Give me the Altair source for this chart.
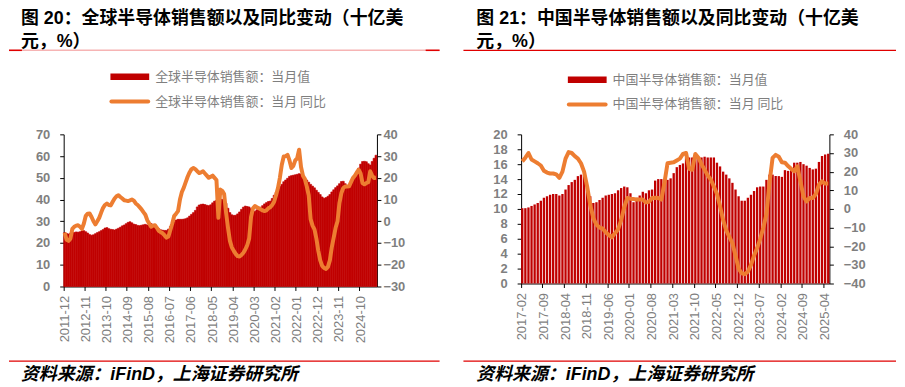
import altair as alt
import pandas as pd

# ---------------- Figure 20: global semiconductor sales ----------------
g_sales_2011 = [24.8]
g_sales_2012 = [24.4, 24.2, 24.5, 24.7, 24.9, 25.1, 25.0, 25.2, 25.6, 25.7, 25.2, 24.6]
g_sales_2013 = [23.9, 23.6, 23.8, 24.3, 24.8, 25.2, 25.7, 26.2, 26.9, 27.1, 26.6, 26.3]
g_sales_2014 = [26.2, 26.0, 26.4, 26.8, 27.3, 27.9, 28.3, 28.9, 29.5, 29.8, 29.3, 28.7]
g_sales_2015 = [28.5, 28.1, 28.0, 28.2, 28.4, 28.6, 28.3, 28.7, 29.0, 28.5, 27.8, 27.3]
g_sales_2016 = [26.6, 26.1, 25.9, 25.8, 25.8, 26.4, 27.6, 28.8, 29.8, 30.6, 30.9, 30.9]
g_sales_2017 = [30.9, 31.0, 31.2, 31.6, 32.4, 33.2, 34.0, 35.0, 36.6, 37.5, 37.8, 37.9]
g_sales_2018 = [37.7, 37.4, 37.2, 37.6, 38.5, 39.3, 39.6, 40.0, 40.2, 40.1, 39.4, 38.3]
g_sales_2019 = [36.0, 34.0, 33.0, 32.7, 32.8, 33.4, 34.3, 35.5, 36.5, 37.0, 36.8, 36.6]
g_sales_2020 = [35.8, 34.9, 34.6, 35.3, 36.0, 36.5, 37.2, 38.0, 38.6, 39.1, 39.3, 40.5]
g_sales_2021 = [42.0, 43.3, 44.5, 46.0, 47.0, 48.2, 49.0, 49.8, 50.7, 51.0, 51.2, 51.4]
g_sales_2022 = [51.6, 51.9, 51.8, 51.0, 50.0, 49.0, 48.0, 47.0, 46.2, 45.4, 44.3, 43.3]
g_sales_2023 = [42.3, 41.2, 40.6, 40.9, 41.5, 42.3, 43.5, 44.5, 45.5, 46.3, 47.3, 48.3]
g_sales_2024 = [48.4, 47.3, 46.2, 46.5, 47.8, 49.1, 50.8, 52.3, 54.5, 56.3, 57.5, 57.6]
g_sales_2025 = [57.4, 56.5, 55.9, 57.5, 59.0, 60.4]

g_yoy_2011 = [-5.3]
g_yoy_2012 = [-8.5, -9.0, -8.0, -3.5, -2.5, -2.0, -1.8, -2.5, -3.5, -1.0, 2.5, 3.5]
g_yoy_2013 = [3.6, 2.0, 0.0, -1.4, 0.0, 1.6, 4.0, 6.2, 7.5, 8.2, 7.5, 7.3]
g_yoy_2014 = [9.0, 10.5, 11.5, 12.0, 11.2, 10.5, 9.7, 9.5, 9.3, 9.6, 10.0, 9.5]
g_yoy_2015 = [8.2, 7.5, 6.5, 5.5, 4.2, 3.0, 0.5, -1.0, -2.5, -2.0, -1.8, -3.0]
g_yoy_2016 = [-4.4, -5.0, -5.5, -6.5, -7.5, -7.0, -4.0, -1.0, 2.4, 3.5, 4.7, 10.0]
g_yoy_2017 = [13.5, 15.5, 18.0, 20.5, 22.5, 24.0, 24.5, 24.0, 23.0, 22.2, 22.5, 23.0]
g_yoy_2018 = [22.0, 21.0, 20.0, 20.5, 21.0, 20.0, 19.0, 1.6, 14.6, 14.0, 12.5, 4.0]
g_yoy_2019 = [-3.0, -9.0, -12.0, -13.6, -15.0, -16.0, -16.2, -15.5, -14.5, -13.0, -11.0, -8.0]
g_yoy_2020 = [2.0, 6.0, 7.0, 6.5, 6.0, 5.5, 5.0, 4.7, 5.0, 6.0, 6.5, 7.5]
g_yoy_2021 = [9.0, 12.0, 15.3, 20.0, 26.0, 29.8, 30.0, 30.6, 28.0, 24.5, 25.5, 28.0]
g_yoy_2022 = [29.0, 32.9, 25.0, 21.0, 19.5, 16.0, 12.0, 1.0, -2.0, -3.7, -8.0, -13.6]
g_yoy_2023 = [-18.0, -20.5, -21.5, -21.9, -21.0, -18.0, -12.0, -7.5, -3.0, 0.0, 8.5, 13.0]
g_yoy_2024 = [15.3, 16.0, 16.0, 16.1, 18.0, 19.9, 21.0, 22.5, 23.7, 22.0, 17.6, 17.0]
g_yoy_2025 = [17.6, 18.0, 23.0, 21.0, 19.9, 20.0]

g_ticks = ["2011-12", "2012-11", "2013-10", "2014-09", "2015-08", "2016-07", "2017-06",
           "2018-05", "2019-04", "2020-03", "2021-02", "2022-01", "2022-12", "2023-11", "2024-10"]

# ---------------- Figure 21: China semiconductor sales ----------------
c_sales_2017 = [10.1, 10.1, 10.2, 10.4, 10.6, 10.8, 11.1, 11.5, 11.7, 11.9, 12.0]
c_sales_2018 = [12.0, 11.8, 12.0, 12.6, 13.2, 13.6, 13.9, 14.4, 14.6, 14.5, 12.6, 11.7]
c_sales_2019 = [10.8, 10.9, 11.2, 11.5, 11.8, 11.9, 12.0, 12.1, 12.5, 12.8, 13.0, 12.9]
c_sales_2020 = [12.1, 10.9, 11.5, 11.8, 12.3, 12.1, 12.5, 12.6, 13.8, 14.0, 14.0, 13.6]
c_sales_2021 = [13.9, 14.1, 14.8, 15.6, 15.9, 16.1, 16.9, 16.9, 16.9, 17.1, 16.9, 16.9]
c_sales_2022 = [17.0, 16.9, 16.9, 16.9, 16.2, 15.7, 15.0, 14.6, 14.1, 13.5, 12.6, 11.7]
c_sales_2023 = [11.1, 11.1, 11.5, 11.9, 12.4, 12.9, 13.0, 13.0, 13.9, 14.6, 14.6, 14.4]
c_sales_2024 = [14.4, 14.3, 15.2, 15.1, 15.3, 16.2, 16.2, 16.3, 16.0, 15.8, 15.5, 15.3]
c_sales_2025 = [15.4, 16.3, 17.1, 17.3, 17.4]

c_yoy_2017 = [25.5, 27.5, 30.0, 26.5, 25.5, 24.5, 23.3, 20.5, 19.5, 19.0, 19.0]
c_yoy_2018 = [18.5, 16.7, 20.0, 27.0, 30.5, 30.0, 28.3, 27.0, 24.5, 20.0, 12.0, 2.0]
c_yoy_2019 = [-4.9, -8.5, -10.0, -10.5, -12.5, -14.0, -15.2, -13.0, -11.0, -6.0, 1.0, 5.9]
c_yoy_2020 = [5.5, 5.3, 5.0, 5.0, 5.0, 3.5, 3.8, 5.9, 6.0, 5.9, 5.0, 14.0]
c_yoy_2021 = [24.5, 24.8, 25.0, 26.0, 27.0, 29.5, 30.0, 21.5, 21.0, 29.5, 27.5, 24.0]
c_yoy_2022 = [21.0, 18.0, 15.8, 12.0, 8.0, 1.4, -6.0, -11.5, -15.0, -18.4, -25.0, -32.0]
c_yoy_2023 = [-34.5, -35.0, -33.7, -30.0, -25.0, -21.0, -16.0, -10.0, -3.0, 14.0, 27.4, 29.0]
c_yoy_2024 = [28.0, 25.0, 24.8, 23.0, 21.5, 20.2, 22.9, 14.8, 6.7, 4.0, 5.9, 5.9]
c_yoy_2025 = [8.0, 13.0, 14.8, 13.6, 13.6]

c_ticks = ["2017-02", "2017-09", "2018-04", "2018-11", "2019-06", "2020-01", "2020-08",
           "2021-03", "2021-10", "2022-05", "2022-12", "2023-07", "2024-02", "2024-09", "2025-04"]

# ---------------- Texts ----------------
g_title = ["图 20：全球半导体销售额以及同比变动（十亿美", "元，%）"]
c_title = ["图 21：中国半导体销售额以及同比变动（十亿美", "元，%）"]
g_leg = ["全球半导体销售额：当月值", "全球半导体销售额：当月 同比"]
c_leg = ["中国半导体销售额：当月值", "中国半导体销售额：当月 同比"]
source = "资料来源：iFinD，上海证券研究所"

BAR = "#C00000"
LINE = "#ED7D31"
GREY = "#7f7f7f"
CJK = "Noto Sans CJK SC"
LAT = "Liberation Sans"


def cat(*parts):
    out = []
    for p in parts:
        out += p
    return out


g_sales = cat(g_sales_2011, g_sales_2012, g_sales_2013, g_sales_2014, g_sales_2015, g_sales_2016,
              g_sales_2017, g_sales_2018, g_sales_2019, g_sales_2020, g_sales_2021, g_sales_2022,
              g_sales_2023, g_sales_2024, g_sales_2025)
g_yoy = cat(g_yoy_2011, g_yoy_2012, g_yoy_2013, g_yoy_2014, g_yoy_2015, g_yoy_2016,
            g_yoy_2017, g_yoy_2018, g_yoy_2019, g_yoy_2020, g_yoy_2021, g_yoy_2022,
            g_yoy_2023, g_yoy_2024, g_yoy_2025)
c_sales = cat(c_sales_2017, c_sales_2018, c_sales_2019, c_sales_2020, c_sales_2021,
              c_sales_2022, c_sales_2023, c_sales_2024, c_sales_2025)
c_yoy = cat(c_yoy_2017, c_yoy_2018, c_yoy_2019, c_yoy_2020, c_yoy_2021,
            c_yoy_2022, c_yoy_2023, c_yoy_2024, c_yoy_2025)

g_months = [d.strftime("%Y-%m") for d in pd.date_range("2011-12-01", periods=len(g_sales), freq="MS")]
c_months = [d.strftime("%Y-%m") for d in pd.date_range("2017-02-01", periods=len(c_sales), freq="MS")]

df_g = pd.DataFrame({"month": g_months, "sales": g_sales, "yoy": g_yoy})
df_c = pd.DataFrame({"month": c_months, "sales": c_sales, "yoy": c_yoy})
one = pd.DataFrame({"k": [0]})


def txt(t, x, y, size, color="black", weight="normal", style="normal", font=CJK,
        baseline="middle"):
    kw = dict(text=t, fontSize=size, color=color, fontWeight=weight, fontStyle=style,
              font=font, align="left", baseline=baseline)
    return alt.Chart(one).mark_text(**kw).encode(x=alt.value(x), y=alt.value(y))


def rule(x1, x2, y, color, width, cap="butt"):
    return alt.Chart(one).mark_rule(color=color, strokeWidth=width, strokeCap=cap).encode(
        x=alt.value(x1), x2=alt.value(x2), y=alt.value(y))


def panel(df, ticks, width, height, pad_inner, ldom, lstep, rdom, rstep, r_label_pad,
          title, leg, title_x, src_x, rule_x1, rule_x2, leg_dy, top_rule_layers):
    x = alt.X("month:O", sort=None,
              scale=alt.Scale(paddingInner=pad_inner, paddingOuter=0),
              axis=alt.Axis(values=ticks, labelAngle=-90, title=None, bandPosition=0,
                            labelFontSize=13, labelColor=GREY, labelFont=LAT,
                            labelPadding=5, tickSize=4, labelOverlap=False))
    bar_kw = dict(color=BAR)
    if pad_inner == 0:
        bar_kw.update(stroke=BAR, strokeWidth=0.6)
    bars = alt.Chart(df).mark_bar(**bar_kw).encode(
        x=x,
        y=alt.Y("sales:Q", scale=alt.Scale(domain=ldom, nice=False, zero=False),
                axis=alt.Axis(orient="left", title=None,
                              values=list(range(ldom[0], ldom[1] + 1, lstep)),
                              labelFontSize=13, labelFontWeight="bold", labelColor=GREY,
                              labelFont=LAT, labelPadding=10, tickSize=4)))
    line = alt.Chart(df).mark_line(color=LINE, strokeWidth=4, strokeJoin="round").encode(
        x=x,
        y=alt.Y("yoy:Q", scale=alt.Scale(domain=rdom, nice=False, zero=False),
                axis=alt.Axis(orient="right", title=None,
                              values=list(range(rdom[0], rdom[1] + 1, rstep)),
                              labelFontSize=13, labelFontWeight="bold", labelColor=GREY,
                              labelFont=LAT, labelPadding=r_label_pad, tickSize=4)))
    title_font = LAT + ", " + CJK
    decos = [
        txt(title[0], title_x, -111.3, 18, weight="bold", font=title_font, baseline="alphabetic"),
        txt(title[1], title_x, -88, 18, weight="bold", font=title_font, baseline="alphabetic"),
        *top_rule_layers,
        rule(47, 86, -58 + leg_dy, BAR, 6.5),
        txt(leg[0], 92, -58 + leg_dy, 13, color=GREY),
        rule(48, 85, -33 + leg_dy, LINE, 4, cap="round"),
        txt(leg[1], 92, -33 + leg_dy, 13, color=GREY),
        rule(rule_x1, rule_x2, 228, "#E00000", 1.2),
        txt(source, src_x, 242, 18, weight="bold", style="italic", font=title_font),
    ]
    return alt.layer(bars, line, *decos).resolve_scale(y="independent").properties(
        width=width, height=height)


left = panel(df_g, g_ticks, 315, 153, 0, [0, 70], 10, [-30, 40], 10, 2,
             g_title, g_leg, -43, -43, -55, 378, 0,
             [rule(-55, 378, -84.5, "#F6B4B4", 1.5),
              rule(-55, -42, -84.5, "#E00000", 1.5),
              rule(364, 378, -84.5, "#E00000", 1.5)])
right = panel(df_c, c_ticks, 310, 150, 0.25, [0, 20], 2, [-40, 40], 10, 10,
              c_title, c_leg, -45, -45, -58, 377, 3,
              [rule(-58, 377, -84.5, "#E00000", 1.2)])

chart = alt.hconcat(left, right, spacing=145, bounds="flush").properties(
    padding=0
).configure_view(stroke=None).configure_axis(
    domainColor="black", tickColor="black", grid=False, domainWidth=1
)

chart.save("out.html", embed_options={"renderer": "svg", "actions": False})
